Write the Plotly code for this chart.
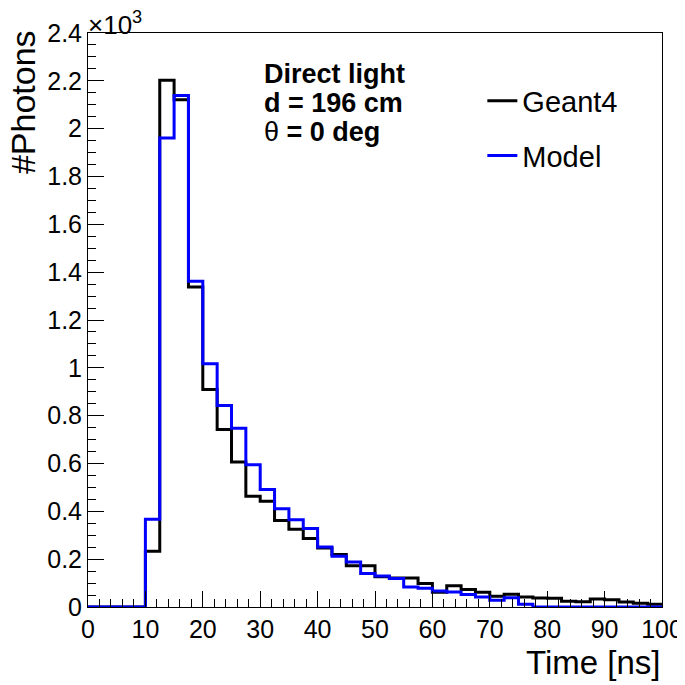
import numpy as np
import plotly.graph_objects as go

# ---- data ----
bin_width = 2.5
x_min, x_max = 0.0, 100.0
geant4 = [0, 0, 0, 0, 233, 2202, 2121, 1338, 909, 742,
          606, 463, 442, 362, 325, 286, 247, 219, 172, 172,
          127, 121, 121, 98, 62, 89, 73, 62, 45, 53,
          42, 38, 37, 24, 22, 33, 30, 21, 16, 11]
model = [0, 0, 0, 0, 367, 1961, 2139, 1362, 1017, 842,
         747, 595, 491, 411, 365, 328, 251, 212, 188, 140,
         130, 119, 84, 78, 67, 63, 52, 42, 28, 39,
         12, 0, 0, 0, 0, 0, 0, 0, 0, 0]
y_tick_vals = [0, 200, 400, 600, 800, 1000, 1200, 1400, 1600, 1800, 2000, 2200, 2400]
y_tick_text = ["0", "0.2", "0.4", "0.6", "0.8", "1", "1.2", "1.4", "1.6", "1.8", "2", "2.2", "2.4"]
x_tick_vals = [0, 10, 20, 30, 40, 50, 60, 70, 80, 90, 100]
info_lines = ["<b>Direct light</b>", "<b>d = 196 cm</b>", "θ<b> = 0 deg</b>"]

edges = np.arange(len(geant4) + 1) * bin_width + x_min

def step(vals):
    return list(vals) + [vals[-1]]

FONT = "Liberation Sans, Arial, sans-serif"
fig = go.Figure()
fig.add_trace(go.Scatter(x=edges, y=step(geant4), mode="lines", line_shape="hv",
                         line=dict(color="#000000", width=3), name="Geant4",
                         legendgroup="g1"))
fig.add_trace(go.Scatter(x=edges, y=step(model), mode="lines", line_shape="hv",
                         line=dict(color="#0000ff", width=3), name="Model",
                         legendgroup="g2"))

# page body has an ~8px margin, so the figure is 8px smaller with reduced left/top margins
fig.update_layout(
    width=677, height=677,
    margin=dict(l=80, r=23, t=25, b=78),
    plot_bgcolor="white", paper_bgcolor="white",
    font=dict(family=FONT, color="black", size=25),
    showlegend=True,
    legend=dict(x=0.687, y=0.926, xanchor="left", yanchor="top",
                bgcolor="rgba(0,0,0,0)", font=dict(size=29, family=FONT),
                tracegroupgap=14, itemwidth=30),
)
fig.update_xaxes(range=[x_min, x_max], showgrid=False, zeroline=False, automargin=False,
                 showline=True, linecolor="black", linewidth=1, mirror=True,
                 ticks="inside", ticklen=16, tickwidth=1, tickcolor="black",
                 tickvals=x_tick_vals, tickfont=dict(size=25, family=FONT),
                 minor=dict(ticks="inside", ticklen=8, dtick=2, tick0=0, tickcolor="black"))
fig.update_yaxes(range=[0, 2400], showgrid=False, zeroline=False, automargin=False,
                 showline=True, linecolor="black", linewidth=1, mirror=True,
                 ticks="inside", ticklen=16, tickwidth=1, tickcolor="black",
                 tickvals=y_tick_vals, ticktext=y_tick_text,
                 tickfont=dict(size=25, family=FONT),
                 minor=dict(ticks="inside", ticklen=8, dtick=50, tick0=0, tickcolor="black"))

# axis titles (ROOT style: aligned to the end of the axis)
fig.add_annotation(text="Time [ns]", xref="paper", yref="paper", x=1.0, y=-0.096,
                   xanchor="right", yanchor="middle", showarrow=False,
                   font=dict(size=33, family=FONT))
fig.add_annotation(text="#Photons", xref="paper", yref="paper", x=-0.112, y=1.008,
                   xanchor="center", yanchor="top", textangle=-90, showarrow=False,
                   font=dict(size=34, family=FONT))
fig.add_annotation(text="×10<sup>3</sup>", xref="paper", yref="paper", x=-0.003, y=0.985,
                   xanchor="left", yanchor="bottom", showarrow=False,
                   font=dict(size=26, family=FONT))

# info text
info_y = [0.958, 0.907, 0.858]
for t, yy in zip(info_lines, info_y):
    fig.add_annotation(text=t, xref="paper", yref="paper", x=0.304, y=yy,
                       xanchor="left", yanchor="top", showarrow=False,
                       font=dict(size=27, family=FONT))

fig.write_html("out.html")
